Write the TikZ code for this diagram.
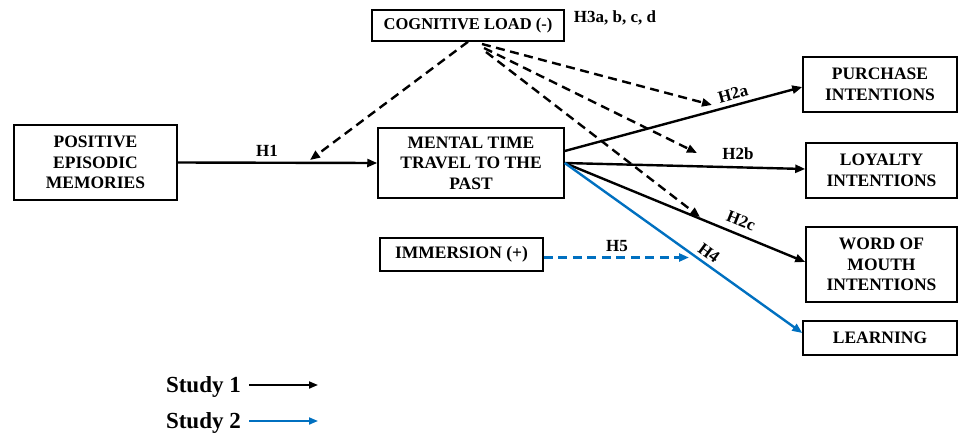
\documentclass[tikz,border=0pt]{standalone}
\usepackage{fontspec}
\setmainfont{Liberation Serif}
\usetikzlibrary{arrows.meta}
\definecolor{studyblue}{RGB}{0,112,192}
\tikzset{
  box/.style={draw, line width=1.5pt, inner sep=0pt, align=center,
    font=\fontsize{17.5}{20.5}\selectfont\bfseries},
  lbl/.style={font=\fontsize{17}{20}\selectfont\bfseries, inner sep=0pt},
  arr/.style={line width=2.4pt, -{Triangle[length=10pt,width=8pt]}},
  darr/.style={arr, dash pattern=on 9pt off 5.5pt},
  blu/.style={draw=studyblue, color=studyblue}
}
\begin{document}
\begin{tikzpicture}[x=1pt,y=-1pt]
\useasboundingbox (0,0) rectangle (959,437);
% boxes
\node[box, minimum width=192, minimum height=31, font=\fontsize{16.5}{20}\selectfont\bfseries] (cog) at (468,25.5) {COGNITIVE LOAD (-)};
\node[box, minimum width=163, minimum height=75] (pos) at (95.5,162.5) {POSITIVE\\EPISODIC\\MEMORIES};
\node[box, minimum width=186, minimum height=70] (mtt) at (471,163) {MENTAL TIME\\TRAVEL TO THE\\PAST};
\node[box, minimum width=163, minimum height=33] (imm) at (461.5,254.5) {IMMERSION (+)};
\node[box, minimum width=154, minimum height=55] (pur) at (880,84.5) {PURCHASE\\INTENTIONS};
\node[box, minimum width=151, minimum height=55] (loy) at (881.5,170.5) {LOYALTY\\INTENTIONS};
\node[box, minimum width=151, minimum height=75] (wom) at (881.5,264.5) {WORD OF\\MOUTH\\INTENTIONS};
\node[box, minimum width=154, minimum height=34] (lea) at (880,338) {LEARNING};
% free ends
\coordinate (c0) at (310,160);
\coordinate (s1) at (482,44);
\coordinate (s2) at (484,48);
\coordinate (s3) at (486,52);
\coordinate (e1) at (712,105);
\coordinate (e2) at (697,153);
\coordinate (e3) at (700,217);
\coordinate (e5) at (689,257.5);
% Study 1 connectors
\draw[arr] (pos.east) -- (mtt.west);
\draw[arr] ([yshift=12pt]mtt.east) -- ([yshift=-2.5pt]pur.west);
\draw[arr] (mtt.east) -- ([yshift=1.5pt]loy.west);
\draw[arr] (mtt.east) -- ([yshift=2.5pt]wom.west);
% cognitive load moderation
\draw[darr] (cog.south) -- (c0);
\draw[darr] (s1) -- (e1);
\draw[darr] (s2) -- (e2);
\draw[darr] (s3) -- (e3);
% Study 2 connectors
\draw[arr, blu] (mtt.east) -- ([yshift=5pt]lea.west);
\draw[darr, blu] ([yshift=-3pt]imm.east) -- (e5);
% labels
\node[lbl] (lh1) at (267,151) {H1};
\node[lbl] (lh3) at (615,18) {H3a, b, c, d};
\node[lbl, rotate=15] (lh2a) at (733,94) {H2a};
\node[lbl] (lh2b) at (738,154) {H2b};
\node[lbl, rotate=-22] (lh2c) at (741,221) {H2c};
\node[lbl, rotate=-36] (lh4) at (709,253) {H4};
\node[lbl] (lh5) at (617,246) {H5};
% legend
\node[lbl, font=\fontsize{23}{25}\selectfont\bfseries, anchor=east] (st1) at (241,387) {Study 1};
\node[lbl, font=\fontsize{23}{25}\selectfont\bfseries, anchor=east] (st2) at (241,423) {Study 2};
\coordinate (l1) at (318,385);
\coordinate (l2) at (318,421);
\draw[line width=1.8pt, -{Triangle[length=9pt,width=7pt]}] ([xshift=8pt,yshift=2pt]st1.east) -- (l1);
\draw[line width=1.8pt, studyblue, -{Triangle[length=9pt,width=7pt]}] ([xshift=8pt,yshift=2pt]st2.east) -- (l2);
\end{tikzpicture}
\end{document}
